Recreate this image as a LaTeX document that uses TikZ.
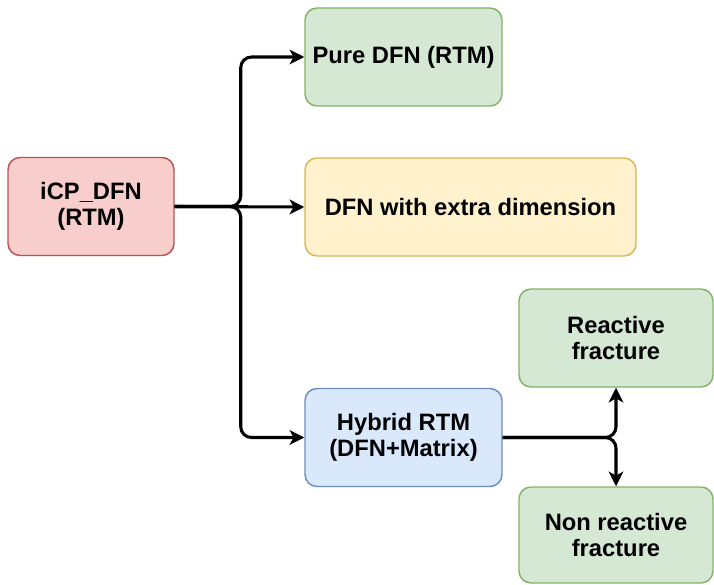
\documentclass[tikz,border=0pt]{standalone}
\usepackage{fontspec}
\setmainfont{Liberation Sans}
\usetikzlibrary{arrows.meta}

\definecolor{redfill}{HTML}{F8CECC}
\definecolor{redline}{HTML}{B85450}
\definecolor{greenfill}{HTML}{D5E8D4}
\definecolor{greenline}{HTML}{82B366}
\definecolor{yellowfill}{HTML}{FFF2CC}
\definecolor{yellowline}{HTML}{D6B656}
\definecolor{bluefill}{HTML}{DAE8FC}
\definecolor{blueline}{HTML}{6C8EBF}

\tikzset{
  box/.style={draw, line width=1.1pt, rounded corners=9pt, align=center,
    minimum height=73.5pt, inner sep=0.75pt,
    font=\fontsize{17.8}{20}\selectfont\bfseries},
  conn/.style={line width=2.3pt, rounded corners=8pt,
    -{Stealth[length=11pt,width=11pt,inset=3pt]}}
}

\begin{document}
\begin{tikzpicture}[x=0.75pt,y=0.75pt,yscale=-1,xscale=1]
\useasboundingbox (0,0) rectangle (714,585);

%Shape: Rounded Rect
\node [box, fill=redfill, draw=redline, minimum width=124.5pt] (icp) at (91,206.5) {iCP\_DFN\\(RTM)};
%Shape: Rounded Rect
\node [box, fill=greenfill, draw=greenline, minimum width=147.75pt] (pure) at (403.5,57) {Pure DFN (RTM)};
%Shape: Rounded Rect
\node [box, fill=yellowfill, draw=yellowline, minimum width=248.25pt] (extra) at (470.5,207) {DFN with extra dimension};
%Shape: Rounded Rect
\node [box, fill=bluefill, draw=blueline, minimum width=147.75pt] (hybrid) at (403.5,437.5) {Hybrid RTM\\(DFN+Matrix)};
%Shape: Rounded Rect
\node [box, fill=greenfill, draw=greenline, minimum width=145.5pt] (react) at (616,338) {Reactive\\fracture};
%Shape: Rounded Rect
\node [box, fill=greenfill, draw=greenline, minimum width=145.5pt, minimum height=72pt] (nonreact) at (616,535) {Non reactive\\fracture};

%Connectors
\draw [conn] (icp.east) -- ++(66,0) |- (pure.west);
\draw [conn] (icp.east) -- (extra.west);
\draw [conn] (icp.east) -- ++(66,0) |- (hybrid.west);
\draw [conn] (hybrid.east) -| (react.south);
\draw [conn] (hybrid.east) -| (nonreact.north);

\end{tikzpicture}
\end{document}
